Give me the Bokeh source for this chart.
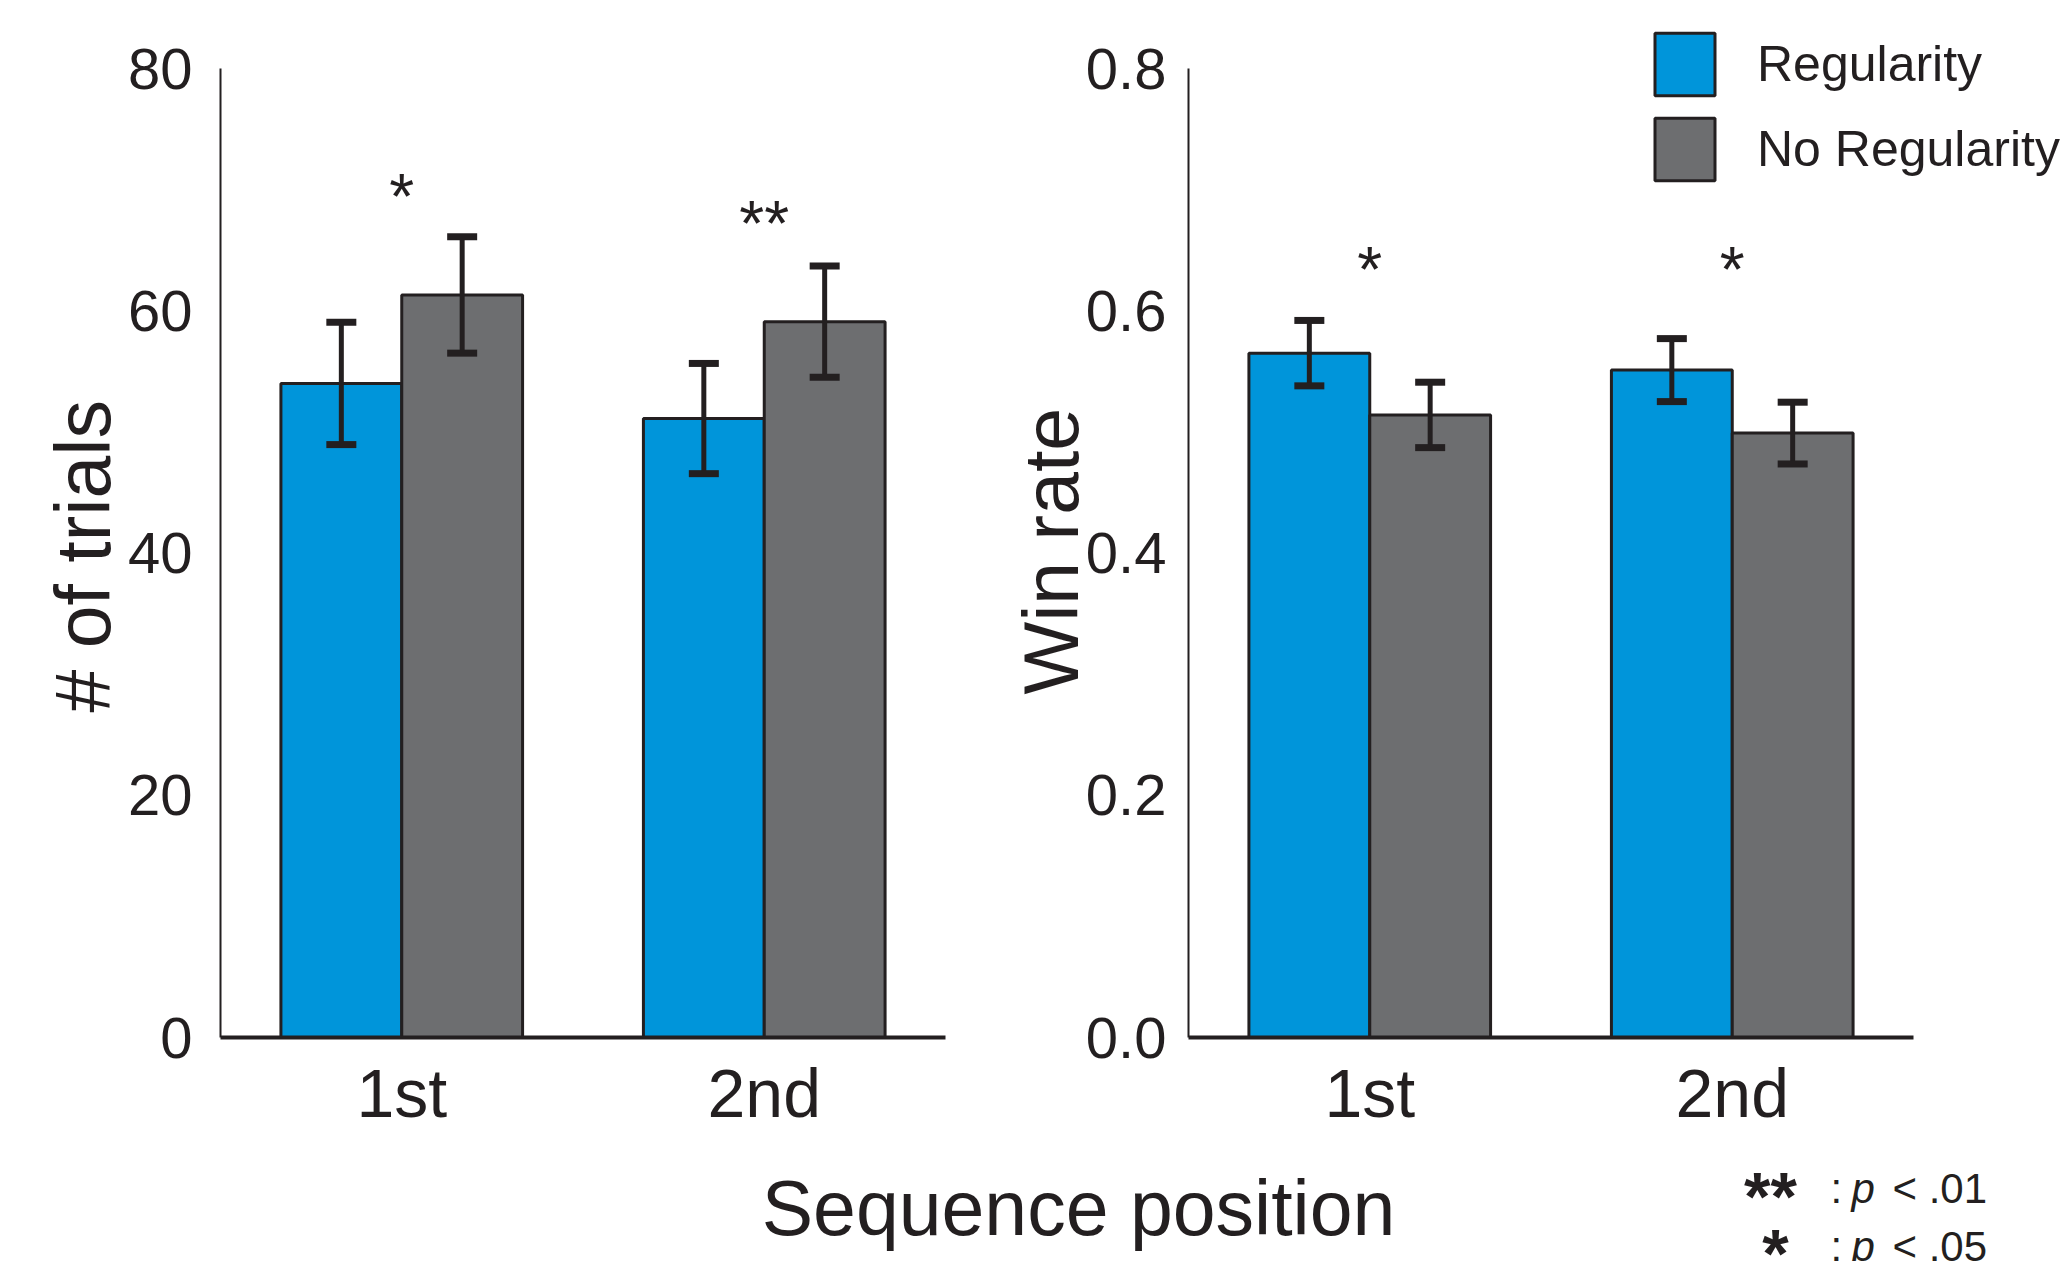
from bokeh.plotting import figure
from bokeh.models import (Range1d, FixedTicker, Whisker, TeeHead, Legend, Title,
                          LegendItem, Label, ColumnDataSource, PrintfTickFormatter)
from bokeh.layouts import row, column
from bokeh.transform import dodge
from bokeh.core.properties import value
from bokeh.embed import file_html
from bokeh.resources import INLINE

# ---------------- data ----------------
positions = ["1st", "2nd"]
series = ["Regularity", "No Regularity"]

trials_reg = [54.0, 51.1]
trials_reg_err = [5.05, 4.55]
trials_noreg = [61.3, 59.1]
trials_noreg_err = [4.8, 4.6]

win_reg = [0.565, 0.551]
win_reg_err = [0.027, 0.026]
win_noreg = [0.514, 0.499]
win_noreg_err = [0.027, 0.0255]

trials_ticks = [0, 20, 40, 60, 80]
win_ticks = [0.0, 0.2, 0.4, 0.6, 0.8]

trials_sig = ["*", "**"]
trials_sig_y = [69.4, 67.2]
win_sig = ["*", "*"]
win_sig_y = [0.634, 0.634]

# ---------------- style ----------------
FONT = "Liberation Sans"
BLUE = "#0095da"
GRAY = "#6d6e70"
INK = "#231f20"
ROW_H = 1150
FRAME_BOTTOM = 1037      # page y of the x axes
AXIS_TOP = 68            # page y of the top tick
PX_PER_CAT = 362.5       # px per category slot

centers = [i + 0.5 for i in range(len(positions))]
n_cat = len(positions)


def panel(width, bl, br, ymax, ticks, ylabel, reg, reg_err, noreg, noreg_err,
          sig, sig_y, title_standoff, title_offset, tick_standoff, fmt=None):
    frame_w = width - bl - br
    x_end = frame_w / PX_PER_CAT
    y_end = ymax * FRAME_BOTTOM / (FRAME_BOTTOM - AXIS_TOP)
    p = figure(width=width, height=ROW_H, x_range=Range1d(0, x_end),
               y_range=Range1d(0, y_end), output_backend="svg", toolbar_location=None,
               tools="", min_border_left=bl, min_border_right=br,
               min_border_top=0, min_border_bottom=ROW_H - FRAME_BOTTOM)
    p.outline_line_color = None
    p.grid.visible = False
    src = ColumnDataSource(dict(
        xc=centers, reg=reg, noreg=noreg,
        reg_hi=[m + e for m, e in zip(reg, reg_err)],
        reg_lo=[m - e for m, e in zip(reg, reg_err)],
        noreg_hi=[m + e for m, e in zip(noreg, noreg_err)],
        noreg_lo=[m - e for m, e in zip(noreg, noreg_err)],
    ))
    r1 = p.vbar(x=dodge("xc", -1 / 6), top="reg", width=1 / 3,
                source=src, fill_color=BLUE, line_color=INK, line_width=3)
    r2 = p.vbar(x=dodge("xc", 1 / 6), top="noreg", width=1 / 3,
                source=src, fill_color=GRAY, line_color=INK, line_width=3)
    for key, off in (("reg", -1 / 6), ("noreg", 1 / 6)):
        w = Whisker(source=src, base=dodge("xc", off),
                    upper=key + "_hi", lower=key + "_lo",
                    line_width=5, line_color=INK, level="annotation")
        w.upper_head = TeeHead(size=30, line_width=7, line_color=INK)
        w.lower_head = TeeHead(size=30, line_width=7, line_color=INK)
        p.add_layout(w)
    ssrc = ColumnDataSource(dict(xc=centers, sy=sig_y, sig=sig))
    p.text(x="xc", y="sy", text="sig", source=ssrc, text_align="center",
           text_baseline="middle", text_font_size="64px",
           text_font=value(FONT), text_color=INK)

    ya = p.yaxis[0]
    ya.ticker = FixedTicker(ticks=ticks)
    ya.bounds = (0, ymax)
    if fmt is not None:
        ya.formatter = fmt
    ya.major_tick_line_color = None
    ya.minor_tick_line_color = None
    ya.major_tick_out = 0
    ya.major_tick_in = 0
    ya.minor_tick_out = 0
    ya.minor_tick_in = 0
    ya.major_label_text_font = FONT
    ya.major_label_text_font_size = "58px"
    ya.major_label_text_color = INK
    ya.major_label_standoff = tick_standoff
    ya.axis_line_width = 2
    ya.axis_line_color = INK

    # y title (the frame reaches the page top so the legend is not clipped)
    t = Title(text=ylabel, align="left", offset=title_offset,
              standoff=title_standoff, text_font=FONT, text_font_size="77px",
              text_font_style="normal", text_color=INK)
    p.add_layout(t, "left")

    xa = p.xaxis[0]
    xa.ticker = FixedTicker(ticks=centers)
    xa.major_label_overrides = {c: name for c, name in zip(centers, positions)}
    xa.bounds = (0, n_cat)
    xa.major_tick_line_color = None
    xa.minor_tick_line_color = None
    xa.major_tick_out = 0
    xa.major_tick_in = 0
    xa.minor_tick_out = 0
    xa.minor_tick_in = 0
    xa.axis_line_width = 4
    xa.axis_line_color = INK
    xa.major_label_text_font = FONT
    xa.major_label_text_font_size = "68px"
    xa.major_label_text_color = INK
    xa.major_label_standoff = 17
    return p, r1, r2


p1, _, _ = panel(1000, 220, 55, 80, trials_ticks, "# of trials",
                 trials_reg, trials_reg_err, trials_noreg, trials_noreg_err,
                 trials_sig, trials_sig_y, -3, 325, 28)
p2, r1, r2 = panel(1060, 188, 0, 0.8, win_ticks, "Win rate",
                   win_reg, win_reg_err, win_noreg, win_noreg_err,
                   win_sig, win_sig_y, -22, 343, 22,
                   fmt=PrintfTickFormatter(format="%.1f"))

legend = Legend(items=[LegendItem(label=series[0], renderers=[r1]),
                       LegendItem(label=series[1], renderers=[r2])],
                location=(459, 849), orientation="vertical",
                glyph_width=75, glyph_height=78, spacing=7, label_standoff=35,
                padding=0, margin=0, border_line_color=None,
                background_fill_alpha=0, label_text_font=FONT,
                label_text_font_size="50px", label_text_color=INK)
p2.add_layout(legend)

# bottom strip: shared x label and significance key
P3_H = 111
p3 = figure(width=2060, height=P3_H, x_range=(0, 1), y_range=(0, 1),
            x_axis_location=None, y_axis_location=None, toolbar_location=None,
            tools="", output_backend="svg", min_border=0)
p3.outline_line_color = None
p3.grid.visible = False


def lab(x, page_y, text, size, style="normal", align="left"):
    # page_y: page coordinate of the text's vertical middle
    p3.add_layout(Label(x=x, y=ROW_H + P3_H - page_y, x_units="screen", y_units="screen",
                        text=text, text_font=FONT, text_font_size=size,
                        text_font_style=style, text_color=INK, text_align=align,
                        text_baseline="middle"))


lab(1078, 1207, "Sequence position", "77px", align="center")
lab(1770, 1195, "**", "68px", style="bold", align="center")
lab(1830, 1188, ":", "42px")
lab(1851, 1188, "p", "42px", style="italic")
lab(1892, 1188, "< .01", "42px")
lab(1775, 1252, "*", "68px", style="bold", align="center")
lab(1830, 1246, ":", "42px")
lab(1851, 1246, "p", "42px", style="italic")
lab(1892, 1246, "< .05", "42px")

layout = column(row(p1, p2), p3)
open("out.html", "w").write(file_html(layout, INLINE))
